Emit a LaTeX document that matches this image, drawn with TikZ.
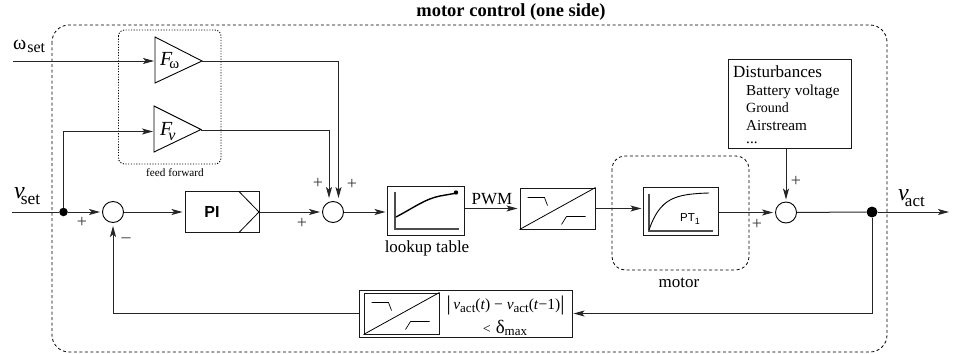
\documentclass[tikz,border=0pt]{standalone}
\usepackage{fontspec}
\setmainfont{Liberation Serif}
\setsansfont{Liberation Sans}
\usetikzlibrary{arrows.meta,calc}
\newcommand{\sbs}[2][0.3em]{\raisebox{-#1}{#2}}
\newcommand{\fs}[1]{\fontsize{#1}{#1}\selectfont}
\tikzset{
  sig/.style={draw=black!85,line width=1pt,-{Stealth[length=11pt,width=6pt,inset=2.5pt]},shorten >=2pt},
  lin/.style={draw=black!85,line width=1pt},
  frame/.style={draw=black!90,line width=1pt,fill=white,inner sep=0,rectangle},
  sumpt/.style={draw=black,line width=0.9pt,circle,minimum size=21pt,inner sep=0,fill=white},
  dot/.style={fill=black,circle,minimum size=#1,inner sep=0},
  dashbox/.style={draw=black,line width=0.8pt,rounded corners=13pt,dash pattern=on 3pt off 2.5pt},
  dotbox/.style={draw=black,line width=0.9pt,rounded corners=6pt,dash pattern=on 1.1pt off 1.6pt},
  lab/.style={font=\fs{17},inner sep=0},
  sublab/.style={font=\fs{15.2},inner sep=0,anchor=base west},
  sgn/.style={font=\fs{18},inner sep=0,text=black!80},
  axes/.style={line width=1.1pt,draw=black!70}
}
\begin{document}
\begin{tikzpicture}[x=1pt,y=-1pt]
\useasboundingbox (0,0) rectangle (957,353);
% enclosures
\draw[dashbox,rounded corners=17pt] (52,25) rectangle (887,352);
\draw[dotbox] (118.5,30) rectangle (221,164);
\draw[dashbox] (612,156) rectangle (749,270);
\node[font=\bfseries\fs{18.5},inner sep=0,anchor=base] (title) at (511,17) {motor control (one side)};
\node[font=\fs{11.2},inner sep=0] (fflab) at (175,172.5) {feed forward};
\node[lab] (motorlab) at (679,282.5) {motor};
% free ends
\coordinate (wIn) at (13,61);
\coordinate (vIn) at (12,212);
\coordinate (vOut) at (949,212);
% feed-forward gains
\draw[line width=0.9pt] (155,37) -- (155,83) -- (202,61) -- cycle;
\draw[line width=0.9pt] (154,106) -- (154,152) -- (201,129.5) -- cycle;
\coordinate (Fw) at (202,61);
\coordinate (Fv) at (201,130);
\coordinate (FwIn) at (155,61);
\coordinate (FvIn) at (154,131.5);
\node[font=\fs{20}\itshape,inner sep=0,anchor=base west] (Fwt) at (160,65) {F\kern-3pt\raisebox{-3pt}{\normalfont\fs{15}ω}};
\node[font=\fs{20}\itshape,inner sep=0,anchor=base west] (Fvt) at (160,135) {F\kern-4pt\raisebox{-5pt}{\fs{16}v}};
% sums
\node[sumpt] (s1) at (113,212) {};
\node[sumpt] (s2) at (333,212) {};
\node[sumpt] (s3) at (786,212.5) {};
\node[dot=8.5pt] (d1) at (63.5,212) {};
\node[dot=11pt] (d2) at (872,212) {};
% blocks
\node[frame,minimum width=74pt,minimum height=41pt] (pi) at (222,212) {};
\node[font=\sffamily\bfseries\fs{16},inner sep=0] (pit) at (212,212) {PI};
\draw[line width=0.8pt] (239,191.5) -- (259,212) -- (239,232.5);
\node[frame,minimum width=77pt,minimum height=49pt] (lut) at (425.5,210.5) {};
\node[frame,minimum width=75pt,minimum height=41pt] (conv) at (557.5,208.5) {};
\node[frame,minimum width=75pt,minimum height=48pt] (pt) at (680.5,211) {};
\node[frame,minimum width=123pt,minimum height=89pt] (dist) at (789.5,103.5) {};
\node[frame,minimum width=213pt,minimum height=47pt] (fb) at (465.5,313.5) {};
\node[frame,minimum width=75pt,minimum height=41pt] (conv2) at (401.5,313.5) {};
% labels of lookup
\node[lab] (lutlab) at (427,248) {lookup table};
\node[lab] (pwm) at (492,199) {PWM};
% lookup glyph
\draw[axes] (395,192) -- (395,229) -- (459,229);
\draw[line width=1.4pt] (396,217) .. controls (415,207) and (425,199) .. (440,196) -- (457,193);
\fill (456,192.5) circle (2.2pt);
% converter glyphs
\foreach \n in {conv,conv2}{
  \draw[line width=0.8pt] (\n.south west) -- (\n.north east);
  \draw[line width=0.7pt] ($(\n.north west)+(8,10)$) -- ++(17,0) -- ++(3,8);
  \draw[line width=0.7pt] ($(\n.south east)+(-34,-5)$) -- ++(5,-8) -- ++(19,0);
}
% PT1 glyph
\draw[axes] (649,194) -- (649,231) -- (713,231);
\draw[line width=0.9pt] (649,230) .. controls (660,198) and (675,194) .. (709,193);
\node[font=\sffamily\fs{11.5},inner sep=0] (ptt) at (690,219) {PT\sbs[0.25em]{\fs{9}1}};
% disturbances text
\node[sublab,font=\fs{17}] (d0) at (733,77) {Disturbances};
\node[sublab] (d1t) at (746,95) {Battery voltage};
\node[sublab,font=\fs{14}] (d2t) at (746,112) {Ground};
\node[sublab] (d3t) at (746,130) {Airstream};
\node[sublab] (d4t) at (746,143) {...};
% feedback text
\node[font=\fs{15.5},inner sep=0] (fb1) at (505.5,305) {\raisebox{-0.05em}{\fs{21}\textbar}\,\textit{v}\sbs[0.2em]{\fs{13}act}(\textit{t}) − \textit{v}\sbs[0.2em]{\fs{13}act}(\textit{t}−1)\raisebox{-0.05em}{\fs{21}\textbar}};
\node[font=\fs{14},inner sep=0] (fb2) at (505,328) {<\kern5pt{\fs{19}δ}\sbs[0.15em]{\fs{13}max}};
% signal names
\node[font=\fs{20},inner sep=0,anchor=base west] (wl) at (13,49) {ω\kern1pt\raisebox{-3pt}{\fs{16}set}};
\node[font=\fs{24},inner sep=0,anchor=base west] (vl) at (14,198) {\textit{v}\kern-3.9pt\raisebox{-6pt}{\fs{17.4}set}};
\node[font=\fs{24},inner sep=0,anchor=base west] (val) at (898,200) {\textit{v}\kern-3.9pt\raisebox{-6pt}{\fs{17}act}};
% signs
\node[sgn] (p1) at (82,222) {+};
\node[sgn] (p2) at (302,223) {+};
\node[sgn] (p3) at (318,183) {+};
\node[sgn] (p4) at (352,184) {+};
\node[sgn] (p5) at (757,224) {+};
\node[sgn] (p6) at (796,181) {+};
\node[sgn] (m1) at (126,240) {–};
% connectors
\draw[sig,shorten >=1pt] (wIn) -- (FwIn);
\draw[lin] (vIn) -- (d1);
\draw[sig] (d1) -- (s1);
\draw[sig,shorten >=1pt] (d1) |- (FvIn);
\draw[sig] (Fw) -| ($(s2.north)+(5.5,-1)$);
\draw[sig] (Fv) -| ($(s2.north)+(-4,-1)$);
\draw[sig] (s1) -- (pi);
\draw[sig] (pi) -- (s2);
\draw[sig,shorten >=1pt] (s2) -- (lut.west |- s2);
\draw[sig] (lut.east |- conv) -- (conv);
\draw[sig,shorten >=1pt] (conv) -- (pt.west |- conv);
\draw[sig] (pt.east |- s3) -- (s3);
\draw[sig] (dist.south -| s3) -- (s3);
\draw[lin] (s3) -- (d2);
\draw[sig,shorten >=0pt] (d2) -- (vOut);
\draw[sig,shorten >=1pt] (d2) |- (fb.east);
\draw[sig,shorten >=3pt] (fb.west) -| (s1.south);
\end{tikzpicture}
\end{document}
